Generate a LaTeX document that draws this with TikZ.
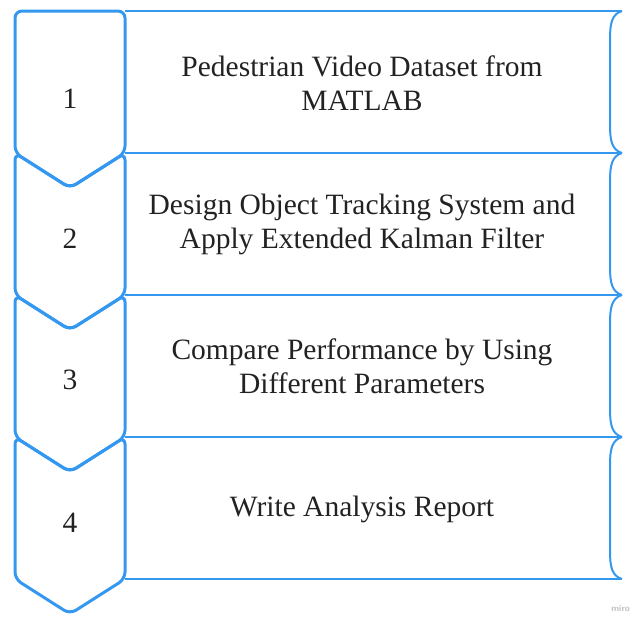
\documentclass[tikz,border=0pt]{standalone}
\usepackage{fontspec}
\setmainfont{Liberation Serif}
\definecolor{flowblue}{RGB}{52,152,240}
\definecolor{inkgray}{RGB}{34,34,34}
\tikzset{
  chevron/.style={draw=flowblue, line width=3pt, rounded corners=7pt, line join=round},
  rowline/.style={draw=flowblue, line width=2pt},
  steptext/.style={align=center, text=inkgray, font=\fontsize{29.5}{34}\selectfont, inner sep=0pt},
  stepnum/.style={text=inkgray, font=\fontsize{29.5}{34}\selectfont, inner sep=0pt}
}
\begin{document}
\begin{tikzpicture}[x=1pt, y=-1pt]
\useasboundingbox (0,0) rectangle (632,616);

% horizontal separators of the text column
\foreach \y in {11,153,295,437,579}
  \draw[rowline] (125,\y) -- (622,\y);

% curved right edge of each text row
\foreach \t in {11,153,295,437}
  \draw[rowline, line join=miter]
    (622,\t) .. controls (612,\t+3) and (610,\t+12) .. (610,\t+28)
    -- (610,\t+114) .. controls (610,\t+130) and (612,\t+139) .. (622,\t+142);

% first chevron: flat top
\draw[chevron] (15,11) -- (15,153) -- (70,188) -- (125,153) -- (125,11) -- cycle;
% remaining chevrons: notched top
\foreach \t in {153,295,437}
  \draw[chevron] (15,\t) -- (70,\t+35) -- (125,\t) -- (125,\t+142)
    -- (70,\t+177) -- (15,\t+142) -- cycle;

% step numbers
\node[stepnum] (n1) at (70,99)  {1};
\node[stepnum] (n2) at (70,239) {2};
\node[stepnum] (n3) at (70,380) {3};
\node[stepnum] (n4) at (70,523) {4};

% step descriptions
\node[steptext] (s1) at (362,83)  {Pedestrian Video Dataset from\\MATLAB};
\node[steptext] (s2) at (362,224) {Design Object Tracking System and\\Apply Extended Kalman Filter};
\node[steptext] (s3) at (362,366) {Compare Performance by Using\\Different Parameters};
\node[steptext] (s4) at (362,509) {Write Analysis Report};

% watermark
\node[text=black!25, font=\sffamily\bfseries\fontsize{9}{10}\selectfont, anchor=south east, inner sep=0pt] (wm) at (630,612) {miro};
\end{tikzpicture}
\end{document}
